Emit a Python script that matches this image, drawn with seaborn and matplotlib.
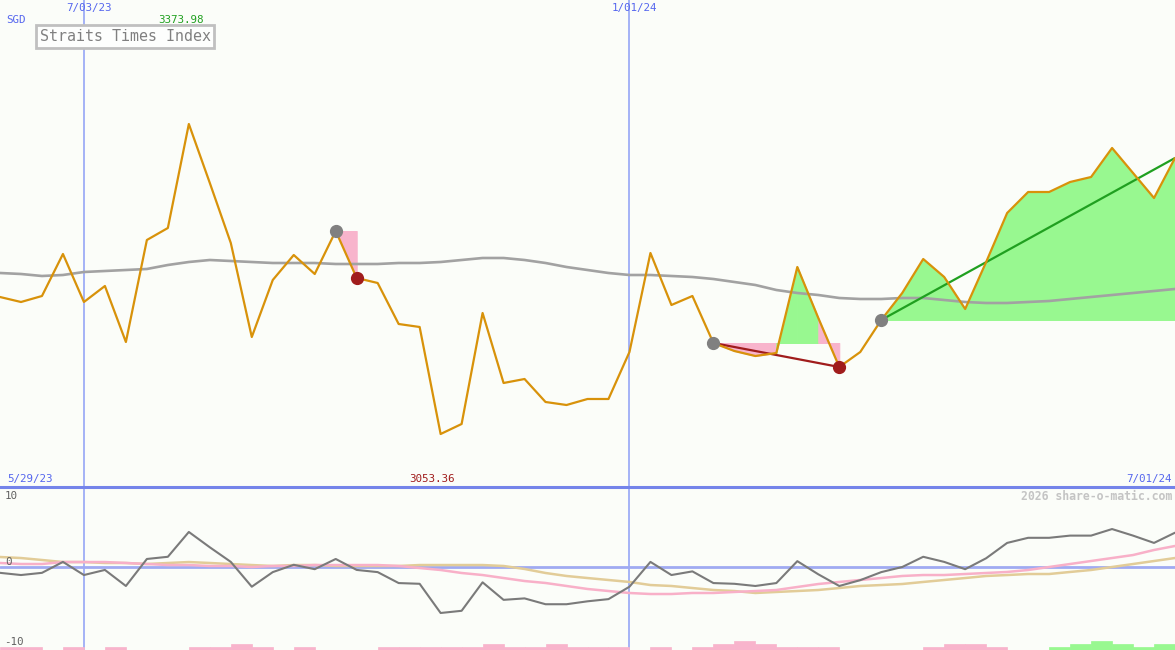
import numpy as np
import pandas as pd
import matplotlib
matplotlib.use("Agg")
import matplotlib.pyplot as plt
import seaborn as sns

# ---------------- data (weekly closes, Straits Times Index, SGD) ----------------
week = list(range(57))
close = [3195.05, 3189.88, 3196.09, 3239.53, 3189.88, 3206.43, 3148.51, 3254.01, 3266.42, 3373.98,
         3312.96, 3250.90, 3153.68, 3212.64, 3238.49, 3218.84, 3263.31, 3214.70, 3209.53, 3167.13,
         3164.03, 3053.36, 3063.70, 3178.51, 3106.11, 3110.24, 3086.46, 3083.35, 3089.56, 3089.56,
         3138.17, 3240.56, 3186.78, 3196.09, 3147.48, 3139.20, 3134.03, 3137.13, 3226.08, 3173.33,
         3122.65, 3138.17, 3171.27, 3199.19, 3234.35, 3215.74, 3182.64, 3231.25, 3281.93, 3303.65,
         3303.65, 3313.99, 3319.16, 3349.16, 3323.30, 3297.44, 3338.82]
ma_long = [3219.88, 3218.85, 3216.78, 3217.81, 3220.91, 3221.95, 3222.98, 3224.02, 3228.15, 3231.25,
           3233.32, 3232.29, 3231.25, 3230.22, 3230.22, 3230.22, 3229.19, 3229.19, 3229.19, 3230.22,
           3230.22, 3231.25, 3233.32, 3235.39, 3235.39, 3233.32, 3230.22, 3226.08, 3222.98, 3219.88,
           3217.81, 3217.81, 3216.78, 3215.74, 3213.67, 3210.57, 3207.47, 3202.30, 3199.19, 3197.12,
           3194.02, 3192.99, 3192.99, 3194.02, 3194.02, 3191.95, 3189.88, 3188.85, 3188.85, 3189.88,
           3190.92, 3192.99, 3195.06, 3197.12, 3199.19, 3201.26, 3203.33]
momentum = [-0.8, -1.1, -0.8, 0.7, -1.1, -0.4, -2.6, 1.1, 1.4, 4.8,
            2.7, 0.7, -2.7, -0.7, 0.3, -0.3, 1.1, -0.4, -0.7, -2.2,
            -2.3, -6.3, -6.0, -2.1, -4.5, -4.3, -5.1, -5.1, -4.7, -4.4,
            -2.7, 0.7, -1.1, -0.6, -2.2, -2.3, -2.6, -2.2, 0.8, -1.0,
            -2.6, -1.8, -0.7, 0.0, 1.4, 0.7, -0.3, 1.2, 3.3, 4.0,
            4.0, 4.3, 4.3, 5.2, 4.3, 3.3, 4.7]
signal_pink = [0.55, 0.41, 0.41, 0.68, 0.68, 0.68, 0.55, 0.41, 0.27, 0.27,
               0.14, 0.14, 0.0, 0.14, 0.14, 0.27, 0.27, 0.27, 0.27, 0.14,
               -0.14, -0.41, -0.82, -1.10, -1.51, -1.92, -2.19, -2.60, -3.01, -3.29,
               -3.56, -3.70, -3.70, -3.56, -3.56, -3.42, -3.29, -3.15, -2.74, -2.33,
               -2.05, -1.78, -1.51, -1.23, -1.10, -1.10, -0.96, -0.82, -0.68, -0.41,
               0.0, 0.41, 0.82, 1.23, 1.64, 2.33, 2.88]
signal_tan = [1.37, 1.23, 0.96, 0.68, 0.68, 0.55, 0.55, 0.41, 0.55, 0.68,
              0.55, 0.41, 0.27, 0.14, 0.27, 0.27, 0.14, 0.14, 0.14, 0.14,
              0.27, 0.27, 0.27, 0.27, 0.14, -0.27, -0.82, -1.23, -1.51, -1.78,
              -2.05, -2.47, -2.60, -2.88, -3.15, -3.29, -3.56, -3.42, -3.29, -3.15,
              -2.88, -2.60, -2.47, -2.33, -2.05, -1.78, -1.51, -1.23, -1.10, -0.96,
              -0.96, -0.68, -0.41, 0.0, 0.41, 0.82, 1.23]
trend_bars = [-1, -1, 0, -1, 0, -1, 0, 0, 0, -1, -1, -2, -1, 0, -1, 0, 0, 0, -1, -1,
              -1, -1, -1, -2, -1, -1, -2, -1, -1, -1, 0, -1, 0, -1, -2, -3, -2, -1, -1, -1,
              0, 0, 0, 0, -1, -2, -2, -1, 0, 0, 1, 2, 3, 2, 1, 2]
events_start = [16, 34, 42]
events_end = [17, 40, 56]
date_ticks_pos = [4, 30]
date_ticks_lab = ["7/03/23", "1/01/24"]
start_label, end_label = "5/29/23", "7/01/24"
title = "Straits Times Index"
currency = "SGD"

# ---------------- style ----------------
BG = "#fbfdf9"
ORANGE = "#d8920a"
PINK = "#f8b4cc"
GREEN = "#98f890"
DRED = "#a01c1c"
DGREEN = "#20a020"
BLUE_TXT = "#5566ee"
VLINE = "#a4b2f6"

sns.set_theme(style="white")
plt.rcParams["font.family"] = ["DejaVu Sans Mono"]

W, H = 1175, 650
fig = plt.figure(figsize=(W / 100, H / 100), dpi=100, facecolor=BG)
ax = fig.add_axes([0, 163 / H, 1, 487 / H])
ax2 = fig.add_axes([0, 0, 1, 163 / H])
for a in (ax, ax2):
    a.set_facecolor(BG)
    a.set_xlim(0, 56)
    a.set_xticks([])
    a.set_yticks([])
    for s in a.spines.values():
        s.set_visible(False)
    for p in date_ticks_pos:
        a.axvline(p, color=VLINE, lw=1.4, zorder=1)

ax.set_ylim(2998.54, 3502.23)
ax2.set_ylim(-11.37, 10.96)
ax2.spines["top"].set_visible(True)
ax2.spines["top"].set_color("#7484ea")
ax2.spines["top"].set_linewidth(2.2)

df = pd.DataFrame({"week": week, "close": close, "ma": ma_long, "mom": momentum,
                   "pink": signal_pink, "tan": signal_tan})

# event fills
x = np.array(week, dtype=float)
c = np.array(close)
for s, e in zip(events_start, events_end):
    lvl = c[s]
    for i in range(s, e):
        col = GREEN if c[i + 1] >= lvl else PINK
        ax.fill_between(x[i:i + 2], c[i:i + 2], lvl, facecolor=col, edgecolor=col,
                        lw=0.7, zorder=2)

sns.lineplot(data=df, x="week", y="ma", ax=ax, color="#a2a2a2", lw=1.9, zorder=3)
for s, e in zip(events_start, events_end):
    if e - s > 1:
        col = DGREEN if c[e] >= c[s] else DRED
        ax.plot([x[s], x[e]], [c[s], c[e]], color=col, lw=1.6, zorder=4)
sns.lineplot(data=df, x="week", y="close", ax=ax, color=ORANGE, lw=1.6, zorder=5)
for s, e in zip(events_start, events_end):
    ax.plot(x[s], c[s], "o", color="#808080", ms=8.5, zorder=6)
    if c[e] < c[s]:
        ax.plot(x[e], c[e], "o", color=DRED, ms=8.5, zorder=6)

# lower panel
ax2.axhline(0, color="#a0aaf2", lw=2, zorder=1)
bars = np.array(trend_bars)
ybot = ax2.get_ylim()[0]
bcols = [GREEN if b > 0 else PINK for b in bars]
ax2.bar(np.arange(len(bars)), np.abs(bars) * 0.41, bottom=ybot, width=1.0, align="edge",
        color=bcols, edgecolor=bcols, lw=0.5, zorder=2)
sns.lineplot(data=df, x="week", y="tan", ax=ax2, color="#e2cc98", lw=1.8, zorder=3)
sns.lineplot(data=df, x="week", y="pink", ax=ax2, color="#f8b0c8", lw=1.8, zorder=3)
sns.lineplot(data=df, x="week", y="mom", ax=ax2, color="#7a7a7a", lw=1.5, zorder=4)
for a in (ax, ax2):
    a.set_xlabel("")
    a.set_ylabel("")

# ---------------- text ----------------
def ftext(px, py, s, **kw):
    fig.text(px / W, 1 - py / H, s, **kw)

fs = 7.8
ftext(89, 8, date_ticks_lab[0], ha="center", va="center", color=BLUE_TXT, fontsize=fs)
ftext(634, 8, date_ticks_lab[1], ha="center", va="center", color=BLUE_TXT, fontsize=fs)
ftext(6, 20, currency, ha="left", va="center", color=BLUE_TXT, fontsize=fs)
ftext(181, 20, f"{max(close):.2f}", ha="center", va="center", color=DGREEN, fontsize=fs)
ftext(125, 36.5, title, ha="center", va="center", color="#808080", fontsize=10.8,
      bbox=dict(boxstyle="square,pad=0.26", fc="#fdfefd", ec="#c0c0c0", lw=2))
ftext(7, 479, start_label, ha="left", va="center", color=BLUE_TXT, fontsize=fs)
ftext(432, 479, f"{min(close):.2f}", ha="center", va="center", color=DRED, fontsize=fs)
ftext(1172, 479, end_label, ha="right", va="center", color=BLUE_TXT, fontsize=fs)
ftext(1172, 496, "2026 share-o-matic.com", ha="right", va="center", color="#c4c4c4",
      fontsize=8.3, fontweight="bold")
ftext(5, 496, "10", ha="left", va="center", color="#606060", fontsize=fs)
ftext(5, 562, "0", ha="left", va="center", color="#606060", fontsize=fs)
ftext(4, 642, "-10", ha="left", va="center", color="#606060", fontsize=fs)

fig.savefig("out.png", dpi=100, facecolor=BG)
